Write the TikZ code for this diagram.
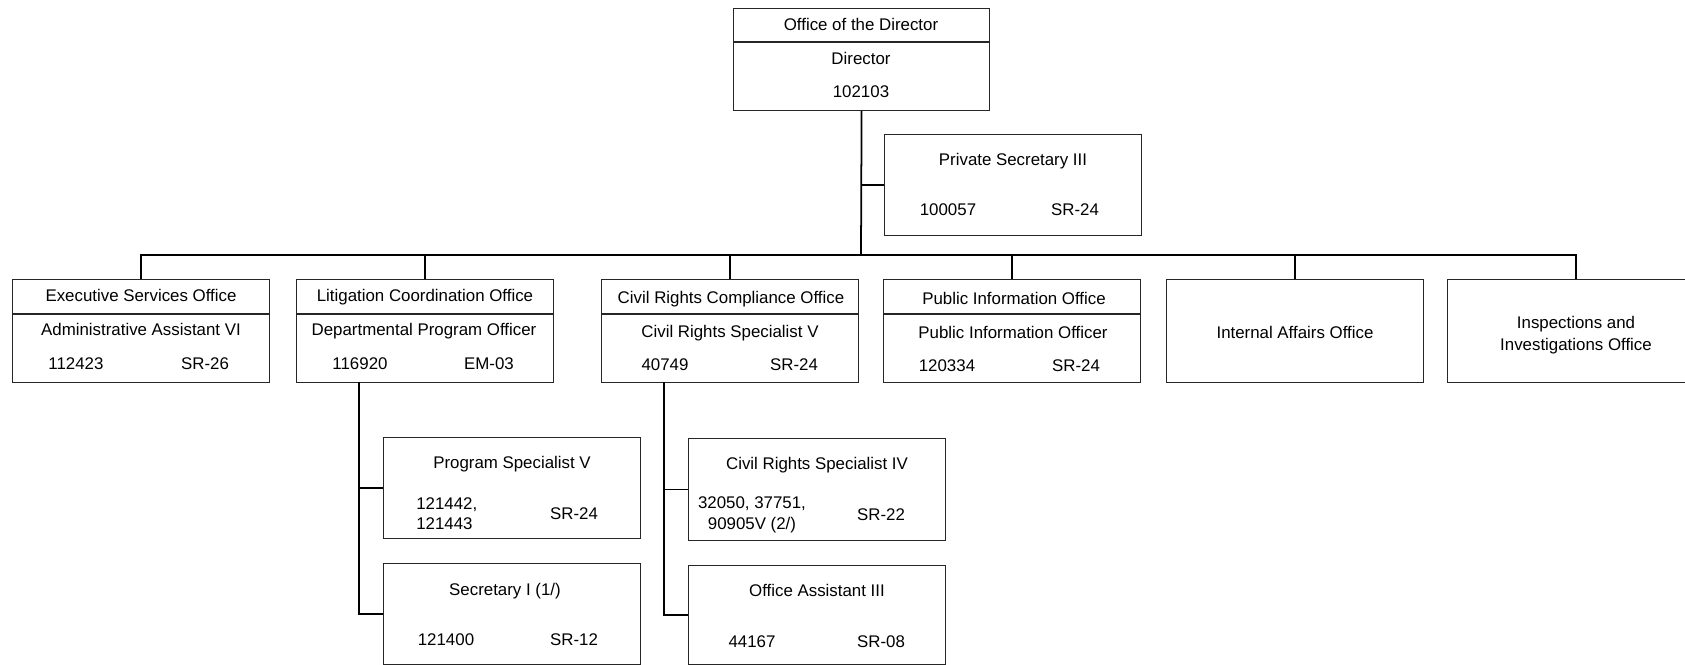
\documentclass[tikz,border=0pt]{standalone}
\usepackage{fontspec}
\setmainfont{Liberation Sans}
\begin{document}
\begin{tikzpicture}[x=0.02cm,y=-0.02cm,
  box/.style={draw=black!85, line width=0.7pt, rectangle, anchor=north west, inner sep=0pt, minimum width=5.14cm},
  lbl/.style={anchor=base, inner sep=0pt, yshift=-3.4pt, font=\fontsize{9.6}{11.5}\selectfont},
  mlbl/.style={inner sep=0pt, font=\fontsize{9.6}{11.6}\selectfont},
  conn/.style={draw=black, line width=1pt},
  divl/.style={draw=black!85, line width=0.7pt}]
\useasboundingbox (0,0) rectangle (1685,665);
\clip (0,0) rectangle (1685,665);

% Director
\node[box, minimum width=5.12cm, minimum height=2.04cm] (dir) at (733,8) {};
\draw[divl] (733,42) -- (989,42);
\node[lbl] (dirt) at (861,25) {Office of the Director};
\node[lbl] (dirr) at (861,59) {Director};
\node[lbl] (dirn) at (861,92) {102103};

% Private Secretary
\node[box, minimum height=2.02cm] (ps) at (884,134) {};
\node[lbl] (pst) at (1013,160) {Private Secretary III};
\node[lbl] (psn) at (948,210) {100057};
\node[lbl] (psg) at (1075,210) {SR-24};

% Top row
\node[box, minimum height=2.06cm] (exec) at (12,279) {};
\node[box, minimum height=2.06cm] (lit) at (296,279) {};
\node[box, minimum height=2.06cm] (civ) at (601,279) {};
\node[box, minimum height=2.06cm] (pub) at (883,279) {};
\node[box, minimum height=2.06cm] (int) at (1166,279) {};
\node[box, minimum height=2.06cm] (insp) at (1447,279) {};

\draw[divl] (12,314) -- (269,314);
\draw[divl] (296,314) -- (553,314);
\draw[divl] (601,314) -- (858,314);
\draw[divl] (883,314) -- (1140,314);

\node[lbl] (exect) at (141,296) {Executive Services Office};
\node[lbl] (execr) at (141,330) {Administrative Assistant VI};
\node[lbl] (execn) at (76,364) {112423};
\node[lbl] (execg) at (205,364) {SR-26};

\node[lbl] (litt) at (425,296) {Litigation Coordination Office};
\node[lbl] (litr) at (424,330) {Departmental Program Officer};
\node[lbl] (litn) at (360,364) {116920};
\node[lbl] (litg) at (489,364) {EM-03};

\node[lbl] (civt) at (731,298) {Civil Rights Compliance Office};
\node[lbl] (civr) at (730,332) {Civil Rights Specialist V};
\node[lbl] (civn) at (665,365) {40749};
\node[lbl] (civg) at (794,365) {SR-24};

\node[lbl] (pubt) at (1014,299) {Public Information Office};
\node[lbl] (pubr) at (1013,333) {Public Information Officer};
\node[lbl] (pubn) at (947,366) {120334};
\node[lbl] (pubg) at (1076,366) {SR-24};

\node[lbl] (intt) at (1295,333) {Internal Affairs Office};
\node[inner sep=0pt, font=\fontsize{9.6}{12.8}\selectfont, align=center] (inspt) at (1576,335) {Inspections and\\Investigations Office};

% Sub boxes
\node[box, minimum height=2.02cm] (psv) at (383,437) {};
\node[lbl] (psvt) at (512,463) {Program Specialist V};
\node[mlbl, align=left, anchor=west] (psvn) at (416,514) {121442,\\121443};
\node[lbl] (psvg) at (574,514) {SR-24};

\node[box, minimum height=2.02cm] (sec) at (383,563) {};
\node[lbl] (sect) at (505,590) {Secretary I (1/)};
\node[lbl] (secn) at (446,640) {121400};
\node[lbl] (secg) at (574,640) {SR-12};

\node[box, minimum height=2.04cm] (crs) at (688,438) {};
\node[lbl] (crst) at (817,464) {Civil Rights Specialist IV};
\node[mlbl, align=center] (crsn) at (752,515) {32050, 37751,\\90905V (2/)};
\node[lbl] (crsg) at (881,515) {SR-22};

\node[box, minimum height=1.98cm] (oa) at (688,565) {};
\node[lbl] (oat) at (817,591) {Office Assistant III};
\node[lbl] (oan) at (752,642) {44167};
\node[lbl] (oag) at (881,642) {SR-08};

% Connectors
\coordinate (bus) at (861,255);
\draw[conn] (dir.south) -- (bus);
\draw[conn] (dir.south |- ps.west) -- (ps.west);
\draw[conn] (exec.north) -- (exec.north |- bus) -- (insp.north |- bus) -- (insp.north);
\draw[conn] (lit.north) -- (lit.north |- bus);
\draw[conn] (civ.north) -- (civ.north |- bus);
\draw[conn] (pub.north) -- (pub.north |- bus);
\draw[conn] (int.north) -- (int.north |- bus);

\coordinate (litv) at (359,382);
\draw[conn] (litv) |- (psv.west);
\draw[conn] (litv) |- (sec.west);
\coordinate (civv) at (664,382);
\draw[conn] (civv) |- (crs.west);
\draw[conn] (civv) |- (oa.west);
\end{tikzpicture}
\end{document}
